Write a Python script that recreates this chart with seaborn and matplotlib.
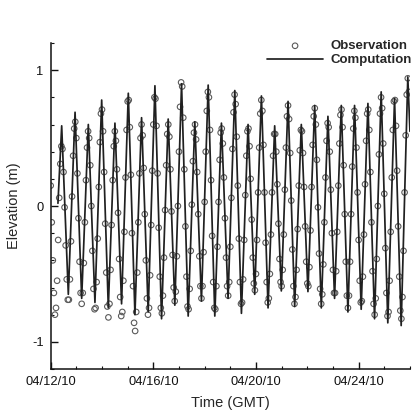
import matplotlib
matplotlib.use("Agg")
import numpy as np
import pandas as pd
import seaborn as sns
import matplotlib.pyplot as plt
import matplotlib.dates as mdates
from matplotlib.ticker import MultipleLocator, FixedLocator, FixedFormatter

# ---------------- data ----------------
start_date = "2010-04-12 00:00"
end_date = "2010-04-26 00:00"

# hourly observed elevations (m), starting 04/12/10 00:00 GMT
obs_elev = [
    0.15, -0.12, -0.40, -0.64, -0.80,
    -0.75, -0.55, -0.25, 0.06, 0.31, 0.44, 0.42, 0.25, -0.01, -0.29, -0.54, -0.69,
    -0.69, -0.54, -0.26, 0.07, 0.37, 0.57, 0.62, 0.50, 0.24, -0.09, -0.41, -0.64,
    -0.72, -0.64, -0.42, -0.12, 0.19, 0.43, 0.55, 0.50, 0.30, 0.00, -0.33, -0.61, -0.76,
    -0.75, -0.56, -0.24, 0.14, 0.47, 0.68, 0.71, 0.55, 0.25, -0.13, -0.49, -0.74,
    -0.82, -0.72, -0.47, -0.14, 0.19, 0.44, 0.55, 0.48, 0.27, -0.05, -0.39, -0.67, -0.81,
    -0.78, -0.55, -0.19, 0.21, 0.56, 0.77, 0.78, 0.58, 0.23, -0.20, -0.59, -0.86,
    -0.92, -0.78, -0.49, -0.12, 0.24, 0.50, 0.60, 0.52, 0.28, -0.06, -0.40, -0.68, -0.80,
    -0.75, -0.51, -0.14, 0.26, 0.60, 0.80, 0.79, 0.59, 0.24, -0.16, -0.52, -0.75,
    -0.79, -0.66, -0.38, -0.03, 0.30, 0.53, 0.60, 0.51, 0.27, -0.04, -0.36, -0.60, -0.70,
    -0.63, -0.37, 0.00, 0.40, 0.73, 0.91, 0.88, 0.65, 0.27, -0.15, -0.52, -0.74,
    -0.76, -0.61, -0.33, 0.01, 0.33, 0.54, 0.60, 0.49, 0.25, -0.06, -0.37, -0.59, -0.68,
    -0.59, -0.34, 0.03, 0.40, 0.70, 0.84, 0.80, 0.56, 0.19, -0.22, -0.56, -0.75,
    -0.76, -0.59, -0.30, 0.03, 0.34, 0.54, 0.57, 0.46, 0.21, -0.09, -0.38, -0.59,
    -0.66, -0.56, -0.30, 0.06, 0.42, 0.69, 0.82, 0.75, 0.51, 0.15, -0.24, -0.56, -0.72,
    -0.71, -0.54, -0.25, 0.08, 0.37, 0.55, 0.57, 0.44, 0.20, -0.10, -0.38, -0.57,
    -0.62, -0.50, -0.25, 0.10, 0.43, 0.68, 0.78, 0.70, 0.45, 0.10, -0.27, -0.56, -0.71,
    -0.68, -0.50, -0.21, 0.10, 0.37, 0.53, 0.53, 0.40, 0.16, -0.13, -0.39, -0.56,
    -0.59, -0.47, -0.21, 0.12, 0.43, 0.66, 0.74, 0.64, 0.39, 0.04, -0.32, -0.59, -0.72,
    -0.67, -0.47, -0.17, 0.15, 0.41, 0.56, 0.55, 0.39, 0.14, -0.15, -0.41, -0.57,
    -0.59, -0.45, -0.18, 0.14, 0.45, 0.66, 0.72, 0.60, 0.34, -0.01, -0.35, -0.61, -0.72,
    -0.65, -0.43, -0.12, 0.21, 0.48, 0.61, 0.58, 0.40, 0.12, -0.20, -0.47, -0.64,
    -0.64, -0.48, -0.19, 0.15, 0.46, 0.67, 0.71, 0.58, 0.30, -0.06, -0.41, -0.66,
    -0.75, -0.66, -0.41, -0.06, 0.29, 0.57, 0.70, 0.65, 0.43, 0.10, -0.25, -0.55, -0.71,
    -0.70, -0.52, -0.21, 0.16, 0.48, 0.68, 0.71, 0.56, 0.25, -0.12, -0.48, -0.72,
    -0.80, -0.68, -0.39, 0.00, 0.38, 0.68, 0.80, 0.72, 0.46, 0.09, -0.31, -0.64, -0.81,
    -0.78, -0.55, -0.19, 0.21, 0.56, 0.77, 0.78, 0.59, 0.26, -0.15, -0.52, -0.77,
    -0.83, -0.67, -0.33, 0.10, 0.52, 0.82, 0.94, 0.84,
]

# computed high waters: hours after 04/12/10 00:00 and elevation (m)
hw_hours = [10.3, 22.8, 35.2, 47.7, 60.1, 72.6, 85.0, 97.5, 109.9, 122.4, 134.8,
            147.3, 159.7, 172.2, 184.6, 197.1, 209.5, 222.0, 234.4, 246.9, 259.3,
            271.8, 284.2, 296.7, 309.1, 321.6, 334.0]
hw_elev = [0.59, 0.69, 0.60, 0.78, 0.61, 0.83, 0.65, 0.885, 0.64, 0.90, 0.62,
           0.89, 0.61, 0.85, 0.60, 0.81, 0.59, 0.77, 0.60, 0.74, 0.66,
           0.74, 0.74, 0.755, 0.84, 0.79, 0.95]
# computed low waters
lw_hours = [16.5, 29.0, 41.4, 53.9, 66.3, 78.8, 91.2, 103.7, 116.1, 128.6, 141.0,
            153.5, 165.9, 178.4, 190.8, 203.3, 215.7, 228.2, 240.6, 253.1, 265.5,
            278.0, 290.4, 302.9, 315.3, 327.8]
lw_elev = [-0.65, -0.68, -0.71, -0.75, -0.72, -0.80, -0.78, -0.83, -0.73, -0.81, -0.70,
           -0.81, -0.68, -0.79, -0.65, -0.75, -0.625, -0.74, -0.63, -0.75, -0.68,
           -0.78, -0.76, -0.83, -0.86, -0.88]
# first and last computed values
comp_first = (6.8, 0.02)
comp_last = (336.0, 0.55)

y_ticks = [-1, 0, 1]
y_ticklabels = ["-1", "0", "1"]

# ---------------- tables ----------------
t0 = pd.Timestamp(start_date)
obs_df = pd.DataFrame({
    "time": pd.date_range(t0, periods=len(obs_elev), freq="h"),
    "elev": obs_elev,
})

comp_h = [comp_first[0]]
comp_v = [comp_first[1]]
for i in range(len(hw_hours)):
    comp_h.append(hw_hours[i]); comp_v.append(hw_elev[i])
    if i < len(lw_hours):
        comp_h.append(lw_hours[i]); comp_v.append(lw_elev[i])
comp_h.append(comp_last[0]); comp_v.append(comp_last[1])
comp_df = pd.DataFrame({
    "time": t0 + pd.to_timedelta(comp_h, unit="h"),
    "elev": comp_v,
})

# ---------------- plot ----------------
sns.set_style("ticks")
plt.rcParams["font.family"] = ["Liberation Sans", "DejaVu Sans"]
plt.rcParams["axes.unicode_minus"] = False

fig = plt.figure(figsize=(4.12, 4.15), dpi=100)
ax = fig.add_axes([0.123, 0.1108, 0.872, 0.7856])

sns.scatterplot(data=obs_df, x="time", y="elev", ax=ax, marker="o", s=16,
                linewidth=0.8, label="Observation", zorder=2, legend=False)
coll = ax.collections[-1]
coll.set_facecolor("none")
coll.set_edgecolor("#5a5a5a")

sns.lineplot(data=comp_df, x="time", y="elev", ax=ax, color="#202020",
             linewidth=1.25, label="Computation", zorder=3, estimator=None,
             sort=False, legend=False)

ax.set_xlim(pd.Timestamp(start_date), pd.Timestamp(end_date))
ax.set_ylim(-1.2, 1.2)

ax.xaxis.set_major_locator(mdates.DayLocator(bymonthday=[12, 16, 20, 24]))
ax.xaxis.set_minor_locator(mdates.DayLocator(interval=1))
ax.xaxis.set_major_formatter(mdates.DateFormatter("%m/%d/%y"))
ax.yaxis.set_major_locator(FixedLocator(y_ticks))
ax.yaxis.set_major_formatter(FixedFormatter(y_ticklabels))
ax.yaxis.set_minor_locator(MultipleLocator(0.2))

sns.despine(ax=ax)
for s in ["left", "bottom"]:
    ax.spines[s].set_linewidth(1.1)
    ax.spines[s].set_color("#111111")
ax.tick_params(which="major", direction="in", length=4.8, width=1.0,
               labelsize=9.3, pad=5, colors="#111111")
ax.tick_params(which="minor", direction="in", length=2.4, width=0.8,
               colors="#111111")

ax.set_xlabel("Time (GMT)", fontsize=10.5, labelpad=6)
ax.set_ylabel("Elevation (m)", fontsize=10.5, labelpad=8)

handles, labels = ax.get_legend_handles_labels()
leg = ax.legend(handles, labels, loc="upper left",
                bbox_to_anchor=(266.7 / 412, 1 - 40 / 415),
                bbox_transform=fig.transFigure, frameon=False,
                borderpad=0, borderaxespad=0, handlelength=4.3,
                handletextpad=0.5, labelspacing=0.15, scatterpoints=1,
                prop={"weight": "bold", "size": 9.5})

fig.savefig("out.png", dpi=100)
